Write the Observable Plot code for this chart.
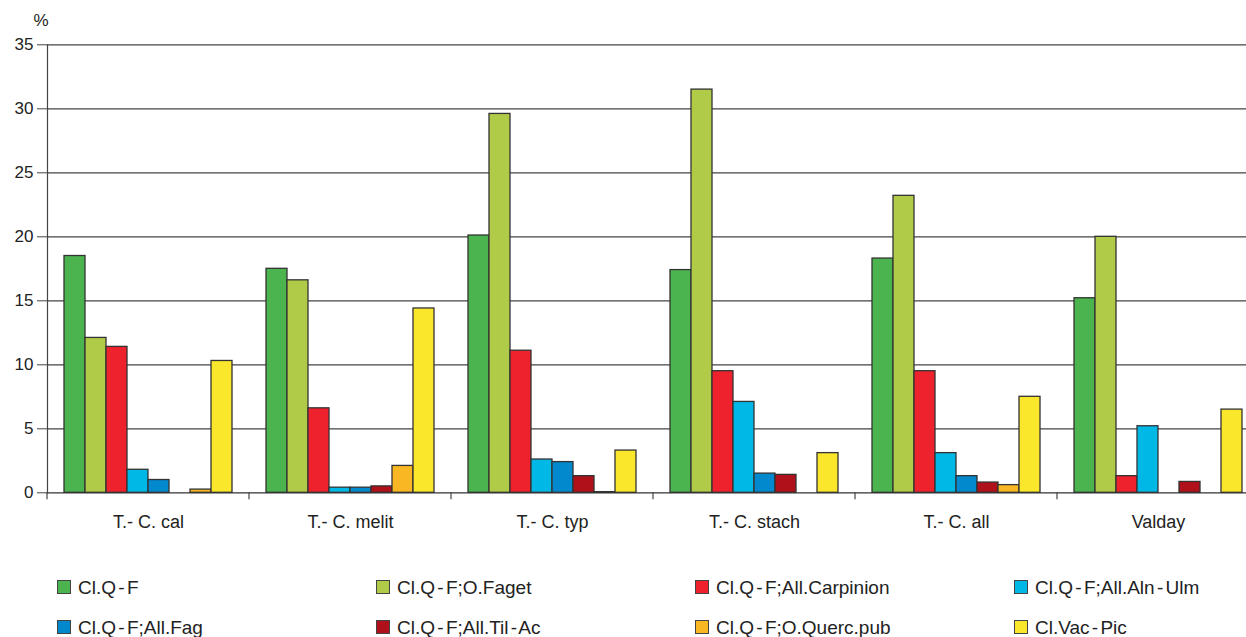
<!DOCTYPE html>
<html><head><meta charset="utf-8">
<script src="https://cdn.jsdelivr.net/npm/d3@7"></script>
<script src="https://cdn.jsdelivr.net/npm/@observablehq/plot@0.6"></script>
<style>
body{margin:0;background:#fff;overflow:hidden;font-family:"Liberation Sans",Arial,sans-serif;}
#chart svg{max-width:none;display:block;}
.legend{display:grid;grid-template-columns:repeat(4,319px);grid-auto-rows:40px;margin-left:57px;margin-top:26px;font-size:19px;word-spacing:-3px;color:#222;}
.item{display:flex;align-items:center;white-space:nowrap;}
.sw{width:14px;height:14px;border:1.5px solid #444;margin-right:7px;box-sizing:border-box;flex:none;position:relative;top:-1px;}
</style></head>
<body>
<div id="chart"></div>
<div class="legend" id="legend"></div>
<script>
const groups = ["T.- C. cal", "T.- C. melit", "T.- C. typ", "T.- C. stach", "T.- C. all", "Valday"];
const series = ["Cl.Q - F", "Cl.Q - F;O.Faget", "Cl.Q - F;All.Carpinion", "Cl.Q - F;All.Aln - Ulm",
                "Cl.Q - F;All.Fag", "Cl.Q - F;All.Til - Ac", "Cl.Q - F;O.Querc.pub", "Cl.Vac - Pic"];
const colors = ["#4bb44e", "#afcb47", "#ee222d", "#00b8e6", "#0288cc", "#b01019", "#f9b823", "#fae62a"];

const clqf      = [18.5, 17.5, 20.1, 17.4, 18.3, 15.2];
const faget     = [12.1, 16.6, 29.6, 31.5, 23.2, 20.0];
const carpinion = [11.4, 6.6, 11.1, 9.5, 9.5, 1.3];
const alnUlm    = [1.8, 0.4, 2.6, 7.1, 3.1, 5.2];
const fag       = [1.0, 0.4, 2.4, 1.5, 1.3, null];
const tilAc     = [null, 0.5, 1.3, 1.4, 0.8, 0.85];
const quercPub  = [0.25, 2.1, 0.05, null, 0.6, null];
const vacPic    = [10.3, 14.4, 3.3, 3.1, 7.5, 6.5];

const yTicks = [0, 5, 10, 15, 20, 25, 30, 35];
const yGrid = [5, 10, 15, 20, 25, 30, 35];
const yUnit = "%";

const seriesValues = [clqf, faget, carpinion, alnUlm, fag, tilAc, quercPub, vacPic];
const rows = [];
series.forEach((s, si) => {
  groups.forEach((g, gi) => {
    const v = seriesValues[si][gi];
    if (v != null) rows.push({group: g, series: s, value: v});
  });
});

const boundaryTicks = Plot.frame({
  render: (index, scales, values, dims) => {
    const g = d3.create("svg:g");
    const y0 = dims.height - dims.marginBottom;
    g.append("line")
      .attr("x1", dims.marginLeft).attr("x2", dims.marginLeft)
      .attr("y1", y0).attr("y2", y0 + 7)
      .attr("stroke", "#444").attr("stroke-width", 1.2);
    return g.node();
  }
});

const chart = Plot.plot({
  width: 1262, height: 542,
  marginTop: 44.3, marginLeft: 47, marginRight: 3, marginBottom: 49.7,
  style: {fontFamily: "'Liberation Sans', Arial, sans-serif", fontSize: "17px", color: "#222", background: "white"},
  fx: {domain: groups, padding: 0, label: null},
  x: {domain: series, paddingInner: 0, paddingOuter: 0.74, axis: null},
  y: {domain: [0, 35]},
  color: {domain: series, range: colors},
  marks: [
    Plot.gridY(yGrid, {stroke: "#444", strokeOpacity: 1, strokeWidth: 1.2}),
    Plot.barY(rows, {fx: "group", x: "series", y: "value", fill: "series", stroke: "#333", strokeWidth: 1.3}),
    Plot.ruleY([0], {stroke: "#333", strokeWidth: 1.3}),
    Plot.frame({anchor: "left", facetAnchor: "left", stroke: "#444", strokeWidth: 1.2}),
    boundaryTicks,
    Plot.axisY({ticks: yTicks, tickSize: 10, tickPadding: 4, fontSize: 17, stroke: "#444", label: null}),
    Plot.text([yUnit], {text: d => d, frameAnchor: "top-left", facetAnchor: "left", textAnchor: "start",
                        lineAnchor: "middle", dx: -14, dy: -24, fontSize: 17, fill: "#222"}),
    Plot.axisFx({anchor: "bottom", tickSize: 0, tickPadding: 22, fontSize: 18, label: null})
  ]
});
document.getElementById("chart").appendChild(chart);

const legend = document.getElementById("legend");
series.forEach((s, i) => {
  const item = document.createElement("div");
  item.className = "item";
  const sw = document.createElement("span");
  sw.className = "sw";
  sw.style.background = colors[i];
  const t = document.createElement("span");
  t.textContent = s;
  item.appendChild(sw); item.appendChild(t);
  legend.appendChild(item);
});
</script>
</body></html>
